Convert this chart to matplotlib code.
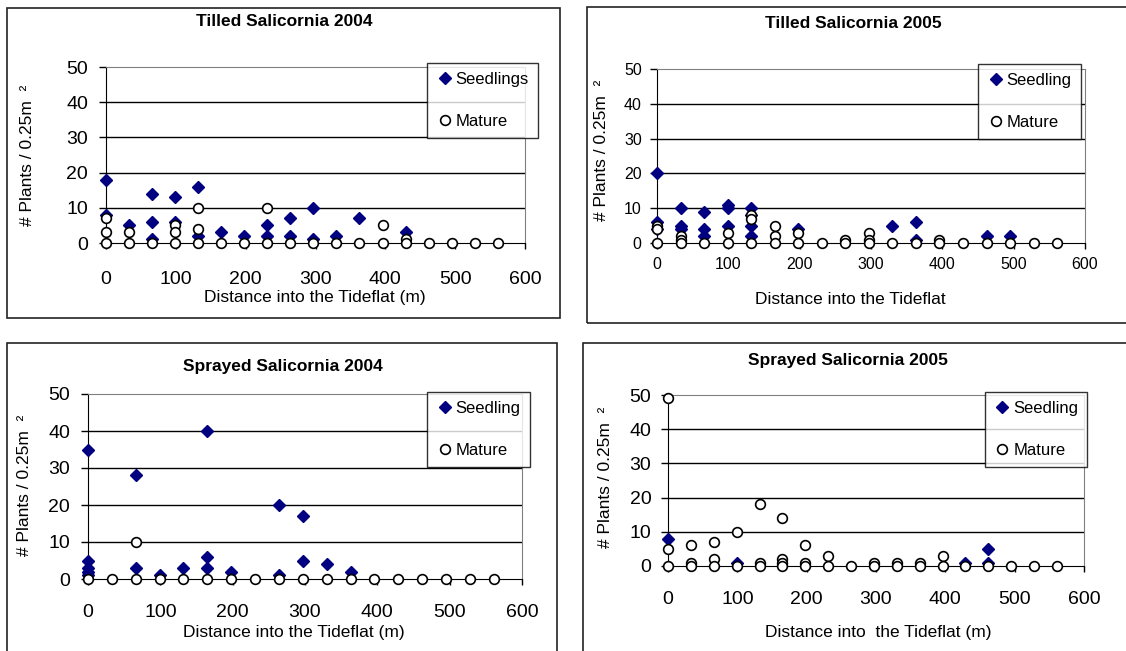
import matplotlib.pyplot as plt
from matplotlib.patches import Rectangle

plt.rcParams['font.family'] = ['Liberation Sans', 'DejaVu Sans']

W, H = 1126, 651

# Tilled Salicornia 2004
t04_seed_x = [0, 0, 33, 66, 66, 66, 99, 99, 132, 132, 165, 198, 231, 231, 264, 264, 297, 297, 330, 363, 429]
t04_seed_y = [18, 8, 5, 14, 6, 1, 13, 6, 16, 2, 3, 2, 5, 2, 7, 2, 10, 1, 2, 7, 3]
t04_mat_x = [0, 0, 0, 33, 33, 66, 99, 99, 99, 132, 132, 132, 165, 198, 231, 231, 264, 297,
             330, 363, 396, 396, 429, 429, 462, 495, 528, 561]
t04_mat_y = [7, 3, 0, 3, 0, 0, 5, 3, 0, 10, 4, 0, 0, 0, 10, 0, 0, 0,
             0, 0, 5, 0, 1, 0, 0, 0, 0, 0]

# Tilled Salicornia 2005
t05_seed_x = [0, 0, 0, 33, 33, 33, 66, 66, 66, 99, 99, 99, 132, 132, 132, 132, 198, 330, 363, 363, 462, 495]
t05_seed_y = [20, 6, 4, 10, 5, 4, 9, 4, 2, 11, 10, 5, 10, 8, 5, 2, 4, 5, 6, 1, 2, 2]
t05_mat_x = [0, 0, 0, 33, 33, 33, 66, 99, 99, 132, 132, 132, 165, 165, 165, 198, 198, 231,
             264, 264, 297, 297, 297, 330, 363, 396, 396, 429, 462, 495, 528, 561]
t05_mat_y = [5, 4, 0, 2, 1, 0, 0, 3, 0, 8, 7, 0, 5, 2, 0, 3, 0, 0,
             1, 0, 3, 1, 0, 0, 0, 1, 0, 0, 0, 0, 0, 0]

# Sprayed Salicornia 2004
s04_seed_x = [0, 0, 0, 0, 0, 66, 66, 99, 132, 165, 165, 165, 198, 264, 264, 297, 297, 330, 363]
s04_seed_y = [35, 5, 3, 2, 1, 28, 3, 1, 3, 40, 6, 3, 2, 20, 1, 17, 5, 4, 2]
s04_mat_x = [0, 33, 66, 66, 99, 132, 165, 198, 231, 264, 297, 330, 363, 396, 429, 462, 495, 528, 561]
s04_mat_y = [0, 0, 10, 0, 0, 0, 0, 0, 0, 0, 0, 0, 0, 0, 0, 0, 0, 0, 0]

# Sprayed Salicornia 2005
s05_seed_x = [0, 99, 429, 462, 462]
s05_seed_y = [8, 1, 1, 5, 1]
s05_mat_x = [0, 0, 0, 33, 33, 33, 66, 66, 66, 99, 99, 132, 132, 132, 165, 165, 165, 165, 198, 198, 198,
             231, 231, 264, 297, 297, 330, 330, 363, 363, 396, 396, 429, 462, 495, 528, 561]
s05_mat_y = [49, 5, 0, 6, 1, 0, 7, 2, 0, 10, 0, 18, 1, 0, 14, 2, 1, 0, 6, 1, 0,
             3, 0, 0, 1, 0, 1, 0, 1, 0, 3, 0, 0, 0, 0, 0, 0]

x_ticks = [0, 100, 200, 300, 400, 500, 600]
y_ticks = [0, 10, 20, 30, 40, 50]
NAVY = '#000080'
YLABEL = '# Plants / 0.25m  \u00b2'


def fx(px):
    return px / W


def fy(py):
    return 1 - py / H


def frame(x0, y0, x1, y1):
    fig.add_artist(Rectangle((fx(x0), fy(y1)), fx(x1 - x0), (y1 - y0) / H,
                             fill=False, edgecolor='#222222', lw=1.2,
                             transform=fig.transFigure))


def panel(box, sx, sy, mx, my, seed_label, title, title_xy, xlabel, xlabel_xy,
          ylabel_xy, legend_box, tick_size, xpad, ypad):
    l, t, r, b = box
    ax = fig.add_axes([fx(l), fy(b), fx(r - l), (b - t) / H])
    ax.plot(sx, sy, 'D', color=NAVY, ms=6.2, mec=NAVY, ls='none',
            label=seed_label, clip_on=False, zorder=3)
    ax.plot(mx, my, 'o', mfc='white', mec='black', mew=1.2, ms=7, ls='none',
            label='Mature', clip_on=False, zorder=4)
    ax.set_xlim(0, 600)
    ax.set_ylim(0, 50)
    ax.set_xticks(x_ticks)
    ax.set_yticks(y_ticks)
    for v in y_ticks[1:-1]:
        ax.axhline(v, color='black', lw=1, zorder=1)
    ax.spines['top'].set_color('#808080')
    ax.spines['right'].set_color('#808080')
    ax.spines['left'].set_color('black')
    ax.spines['bottom'].set_color('black')
    ax.tick_params(axis='y', direction='out', length=5, width=1, pad=ypad, labelsize=tick_size)
    ax.tick_params(axis='x', direction='out', length=4, width=1, pad=xpad, labelsize=tick_size)

    fig.text(fx(title_xy[0]), fy(title_xy[1]), title, ha='center', va='center',
             fontsize=12.5, fontweight='bold')
    fig.text(fx(xlabel_xy[0]), fy(xlabel_xy[1]), xlabel, ha='center', va='center', fontsize=12.5)
    fig.text(fx(ylabel_xy[0]), fy(ylabel_xy[1]), YLABEL, ha='center', va='center',
             rotation=90, fontsize=12.5)

    lx0, ly0, lx1, ly1 = legend_box
    leg = ax.legend(loc='upper left', bbox_to_anchor=(fx(lx0), fy(ly0)),
                    bbox_transform=fig.transFigure, fontsize=12, frameon=True,
                    fancybox=False, borderaxespad=0, handletextpad=0.15,
                    handlelength=1.0, labelspacing=1.6, borderpad=0.55)
    leg.get_frame().set_edgecolor('black')
    leg.get_frame().set_linewidth(1)
    return ax


fig = plt.figure(figsize=(W / 100, H / 100), dpi=100)

frame(7, 8, 560, 318)
frame(587, 7, 1130, 323)
frame(7, 343, 557, 655)
frame(583, 343, 1130, 655)

panel((106, 67, 525, 243), t04_seed_x, t04_seed_y, t04_mat_x, t04_mat_y, 'Seedlings',
      'Tilled Salicornia 2004', (284, 22), 'Distance into the Tideflat (m)', (315, 298),
      (28, 155), (427, 63, 533, 141), 14, 16, 8)
panel((657, 69, 1085, 243), t05_seed_x, t05_seed_y, t05_mat_x, t05_mat_y, 'Seedling',
      'Tilled Salicornia 2005', (853, 24), 'Distance into the Tideflat', (850, 300),
      (602, 150), (978, 64, 1087, 140), 11.5, 6, 6)
panel((88, 394, 522, 579), s04_seed_x, s04_seed_y, s04_mat_x, s04_mat_y, 'Seedling',
      'Sprayed Salicornia 2004', (283, 366), 'Distance into the Tideflat (m)', (294, 632),
      (25, 485), (427, 392, 524, 473), 14, 14, 8)
panel((668, 395, 1084, 566), s05_seed_x, s05_seed_y, s05_mat_x, s05_mat_y, 'Seedling',
      'Sprayed Salicornia 2005', (848, 361), 'Distance into  the Tideflat (m)', (878, 633),
      (605, 477), (985, 392, 1088, 475), 14, 14, 7)

fig.savefig('out.png', dpi=100)
